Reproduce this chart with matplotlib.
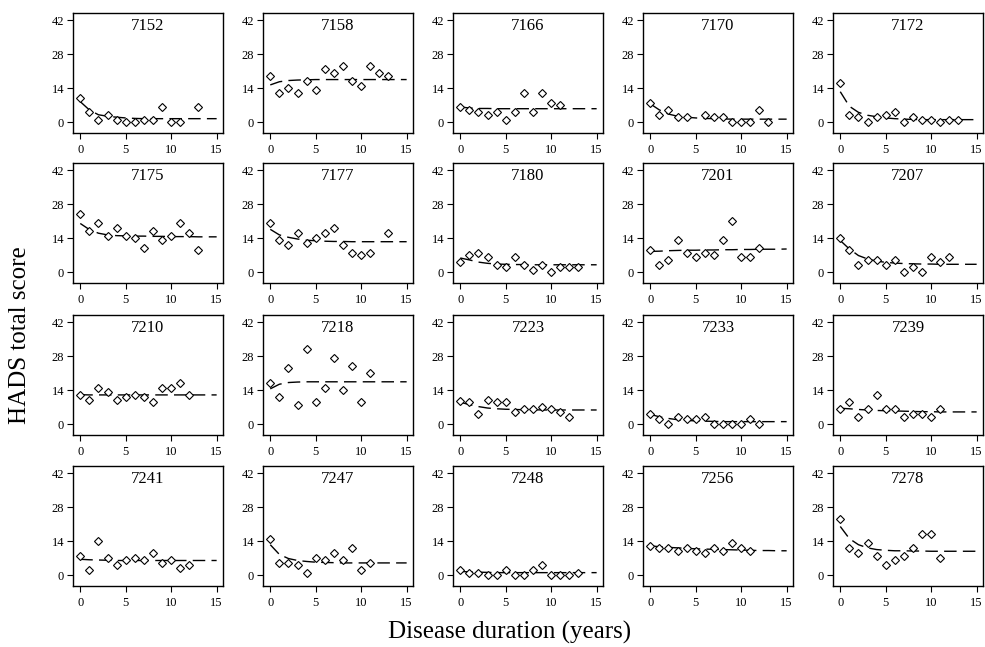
import numpy as np
import matplotlib
matplotlib.use("Agg")
from matplotlib import pyplot as plt

plt.rcParams['font.family'] = ['Liberation Serif', 'DejaVu Serif']

# patient ids, one panel each (row by row)
ids = ['7152', '7158', '7166', '7170', '7172',
       '7175', '7177', '7180', '7201', '7207',
       '7210', '7218', '7223', '7233', '7239',
       '7241', '7247', '7248', '7256', '7278']

# observed HADS total score per year of disease duration
obs_x = {
    '7152': [0, 1, 2, 3, 4, 5, 6, 7, 8, 9, 10, 11, 13],
    '7158': list(range(14)),
    '7166': list(range(12)),
    '7170': [0, 1, 2, 3, 4, 6, 7, 8, 9, 10, 11, 12, 13],
    '7172': list(range(14)),
    '7175': list(range(14)),
    '7177': [0, 1, 2, 3, 4, 5, 6, 7, 8, 9, 10, 11, 13],
    '7180': list(range(14)),
    '7201': list(range(13)),
    '7207': list(range(13)),
    '7210': list(range(13)),
    '7218': list(range(12)),
    '7223': list(range(13)),
    '7233': list(range(13)),
    '7239': list(range(12)),
    '7241': list(range(13)),
    '7247': list(range(12)),
    '7248': list(range(14)),
    '7256': list(range(12)),
    '7278': list(range(12)),
}
obs_y = {
    '7152': [10, 4, 1, 3, 1, 0, 0, 1, 1, 6, 0, 0, 6],
    '7158': [19, 12, 14, 12, 17, 13, 22, 20, 23, 17, 15, 23, 20, 19],
    '7166': [6, 5, 4, 3, 4, 1, 4, 12, 4, 12, 8, 7],
    '7170': [8, 3, 5, 2, 2, 3, 2, 2, 0, 0, 0, 5, 0],
    '7172': [16, 3, 2, 0, 2, 3, 4, 0, 2, 1, 1, 0, 1, 1],
    '7175': [24, 17, 20, 15, 18, 15, 14, 10, 17, 13, 15, 20, 16, 9],
    '7177': [20, 13, 11, 16, 12, 14, 16, 18, 11, 8, 7, 8, 16],
    '7180': [4, 7, 8, 6, 3, 2, 6, 3, 1, 3, 0, 2, 2, 2],
    '7201': [9, 3, 5, 13, 8, 6, 8, 7, 13, 21, 6, 6, 10],
    '7207': [14, 9, 3, 5, 5, 3, 5, 0, 2, 0, 6, 4, 6],
    '7210': [12, 10, 15, 13, 10, 11, 12, 11, 9, 15, 15, 17, 12],
    '7218': [17, 11, 23, 8, 31, 9, 15, 27, 14, 24, 9, 21],
    '7223': [9.5, 9, 4, 10, 9, 9, 5, 6, 6, 7, 6, 5, 3],
    '7233': [4, 2, 0, 3, 2, 2, 3, 0, 0, 0, 0, 2, 0],
    '7239': [6, 9, 3, 6, 12, 6, 6, 3, 4, 4, 3, 6],
    '7241': [8, 2, 14, 7, 4, 6, 7, 6, 9, 5, 6, 3, 4],
    '7247': [15, 5, 5, 4, 1, 7, 6, 9, 6, 11, 2, 5],
    '7248': [2, 1, 1, 0, 0, 2, 0, 0, 2, 4, 0, 0, 0, 1],
    '7256': [12, 11, 11, 10, 11, 10, 9, 11, 10, 13, 11, 10],
    '7278': [23, 11, 9, 13, 8, 4, 6, 8, 11, 17, 17, 7],
}

# fitted trajectory read at years 0..15
fit_x = list(range(16))
fit_y = {
    '7152': [8.4, 5, 3, 2.4, 2, 1.7, 1.5, 1.4, 1.4, 1.4, 1.4, 1.4, 1.4, 1.4, 1.4, 1.4],
    '7158': [15.3, 16.6, 17.1, 17.3, 17.4, 17.5, 17.5, 17.5, 17.5, 17.5, 17.5, 17.5, 17.5, 17.5, 17.5, 17.5],
    '7166': [6.2, 5.8, 5.6, 5.6, 5.5, 5.5, 5.5, 5.5, 5.5, 5.5, 5.5, 5.5, 5.5, 5.5, 5.5, 5.5],
    '7170': [7.5, 5, 3.3, 2.4, 2, 1.7, 1.5, 1.4, 1.3, 1.2, 1.2, 1.2, 1.2, 1.2, 1.2, 1.2],
    '7172': [12.5, 6.5, 4, 2.8, 2.2, 1.7, 1.4, 1.2, 1.1, 1, 1, 1, 1, 1, 1, 1],
    '7175': [20, 17.5, 16, 15.3, 15, 14.9, 14.8, 14.8, 14.7, 14.7, 14.6, 14.6, 14.6, 14.5, 14.5, 14.5],
    '7177': [17.6, 15.3, 14.3, 13.6, 13.1, 12.9, 12.7, 12.6, 12.6, 12.5, 12.5, 12.5, 12.5, 12.5, 12.5, 12.5],
    '7180': [5.8, 5, 4.1, 3.6, 3.3, 3.2, 3.1, 3.1, 3, 3, 3, 3, 3, 3, 3, 3],
    '7201': [8.5, 8.6, 8.8, 8.9, 9, 9, 9.1, 9.1, 9.2, 9.2, 9.3, 9.3, 9.4, 9.4, 9.4, 9.5],
    '7207': [13, 9.5, 6.8, 5.4, 4.5, 4, 3.7, 3.5, 3.4, 3.3, 3.3, 3.2, 3.2, 3.2, 3.2, 3.2],
    '7210': [12.1, 12, 12, 12, 12, 12, 12, 12, 12, 12, 12, 12, 12, 12, 12, 12],
    '7218': [14.5, 16.4, 17.1, 17.3, 17.4, 17.4, 17.4, 17.4, 17.4, 17.4, 17.4, 17.4, 17.4, 17.4, 17.4, 17.4],
    '7223': [9, 8, 7.2, 6.6, 6.3, 6.1, 6, 5.9, 5.9, 5.8, 5.8, 5.8, 5.8, 5.8, 5.8, 5.8],
    '7233': [4, 3, 2.3, 1.8, 1.5, 1.3, 1.2, 1.1, 1, 1, 1, 1, 1, 1, 1, 1],
    '7239': [6.5, 6.3, 6, 5.8, 5.6, 5.5, 5.4, 5.3, 5.2, 5.1, 5.1, 5, 5, 5, 5, 5],
    '7241': [6.5, 6.3, 6.2, 6.1, 6, 6, 6, 6, 6, 6, 6, 6, 6, 6, 6, 6],
    '7247': [12.5, 8.5, 6.8, 6, 5.6, 5.3, 5.2, 5.1, 5, 5, 5, 5, 5, 5, 5, 5],
    '7248': [1.5, 1.3, 1.2, 1.1, 1, 1, 1, 1, 1, 1, 1, 1, 1, 1, 1, 1],
    '7256': [12, 11.7, 11.4, 11.2, 11, 10.8, 10.7, 10.6, 10.5, 10.4, 10.3, 10.2, 10.1, 10.1, 10, 10],
    '7278': [20, 15, 12.5, 11.2, 10.5, 10.2, 10, 10, 9.9, 9.9, 9.8, 9.8, 9.8, 9.8, 9.8, 9.8],
}

xticks = [0, 5, 10, 15]
yticks = [0, 14, 28, 42]

W, H = 985, 647
fig = plt.figure(figsize=(W / 100, H / 100), dpi=100)

lefts = [73, 263, 453, 643, 833]
tops = [13, 163, 315, 466]
aw, ah = 150, 120

for i, pid in enumerate(ids):
    r, c = divmod(i, 5)
    ax = fig.add_axes([lefts[c] / W, 1 - (tops[r] + ah) / H, aw / W, ah / H])
    ax.plot(fit_x, fit_y[pid], color='black', lw=1.0, dashes=(9, 4.5))
    ax.plot(obs_x[pid], obs_y[pid], linestyle='none', marker='D', ms=4.0,
            mfc='white', mec='black', mew=0.8)
    ax.set_xlim(-0.8, 15.7)
    ax.set_ylim(-4.5, 44.9)
    ax.set_xticks(xticks)
    ax.set_yticks(yticks)
    ax.tick_params(direction='out', length=4, width=0.8, labelsize=9, pad=2.5)
    ax.tick_params(axis='x', pad=4)
    for s in ax.spines.values():
        s.set_linewidth(1.0)
    ax.text(0.5, 0.955, pid, transform=ax.transAxes, ha='center', va='top',
            fontsize=12)

fig.text(20 / W, 1 - 335 / H, 'HADS total score', rotation=90, ha='center',
         va='center', fontsize=18)
fig.text(510 / W, 1 - 632 / H, 'Disease duration (years)', ha='center',
         va='center', fontsize=18)

fig.savefig('out.png', dpi=100)
